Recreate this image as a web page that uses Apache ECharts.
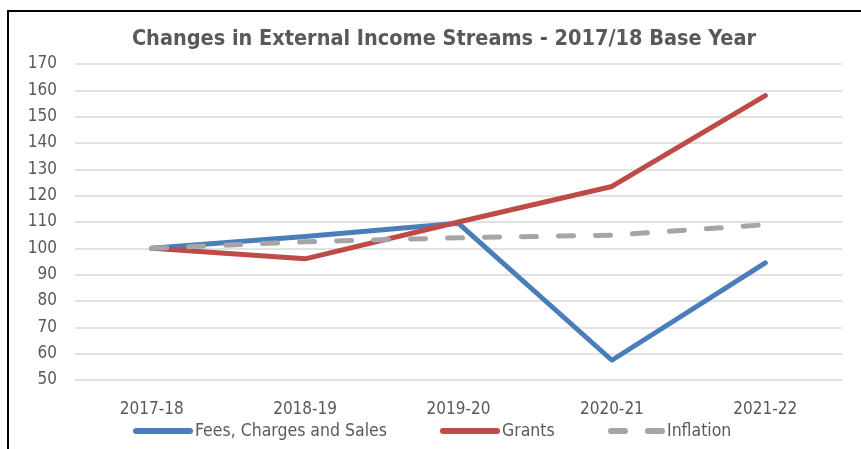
<!DOCTYPE html>
<html>
<head>
<meta charset="utf-8">
<script src="https://cdn.jsdelivr.net/npm/echarts@6/dist/echarts.min.js"></script>
<style>
  body { margin: 0; background: #fff; }
  #chart { width: 861px; height: 449px; }
  .frame {
    position: absolute;
    left: 7px;
    top: 10px;
    width: 860px;
    height: 445px;
    border-top: 2px solid #000;
    border-left: 2px solid #000;
    pointer-events: none;
  }
</style>
</head>
<body>
<div id="chart"></div>
<div class="frame"></div>
<script>
var categories = ['2017-18', '2018-19', '2019-20', '2020-21', '2021-22']
var fees = [100, 104.5, 109.5, 57.5, 94.5]
var grants = [100, 96, 110, 123.5, 158]
var inflation = [100, 102.5, 104, 105, 109]
var names = ['Fees, Charges and Sales', 'Grants', 'Inflation']

var font = '"DejaVu Sans Condensed", "Liberation Sans Narrow", sans-serif'
var grey = '#595959'
var chart = echarts.init(document.getElementById('chart'))

// one legend per series so each item sits where the original has it
function legendAt(name, left, icon, width) {
  return {
    data: [{ name: name, icon: icon }],
    left: left,
    top: 417,
    itemWidth: width,
    itemHeight: 6,
    textStyle: { color: grey, fontSize: 17.5, fontFamily: font, padding: [0, 0, 0, -3] }
  }
}

var bar = 'path://M3,0H57A3,3 0 0 1 57,6H3A3,3 0 0 1 3,0Z'
var dashes = 'path://M3,0H17A3,3 0 0 1 17,6H3A3,3 0 0 1 3,0Z M40,0H54A3,3 0 0 1 54,6H40A3,3 0 0 1 40,0Z'

chart.setOption({
  animation: false,
  color: ['#4a7ebb', '#be4b48', '#a5a5a5'],
  title: {
    text: 'Changes in External Income Streams - 2017/18 Base Year',
    left: 439,
    textAlign: 'center',
    top: 23,
    textStyle: { color: grey, fontSize: 21.5, fontWeight: 'bold', fontFamily: font }
  },
  grid: { left: 75, right: 19, top: 64, bottom: 69 },
  legend: [
    legendAt(names[0], 128, bar, 60),
    legendAt(names[1], 435, bar, 60),
    legendAt(names[2], 603, dashes, 57)
  ],
  xAxis: {
    type: 'category',
    data: categories,
    axisLine: { show: false },
    axisTick: { show: false },
    axisLabel: { color: grey, fontSize: 17, fontFamily: font, margin: 21 }
  },
  yAxis: {
    type: 'value',
    min: 50,
    max: 170,
    interval: 10,
    axisLabel: { color: grey, fontSize: 17, fontFamily: font, margin: 18 },
    splitLine: { lineStyle: { color: '#d9d9d9', width: 1.5 } }
  },
  series: [
    {
      name: names[0],
      type: 'line',
      data: fees,
      symbol: 'none',
      lineStyle: { width: 5, cap: 'round', join: 'round' }
    },
    {
      name: names[1],
      type: 'line',
      data: grants,
      symbol: 'none',
      lineStyle: { width: 5, cap: 'round', join: 'round' }
    },
    {
      name: names[2],
      type: 'line',
      data: inflation,
      symbol: 'none',
      lineStyle: { width: 5, type: [15, 22], cap: 'round' }
    }
  ]
})
</script>
</body>
</html>
